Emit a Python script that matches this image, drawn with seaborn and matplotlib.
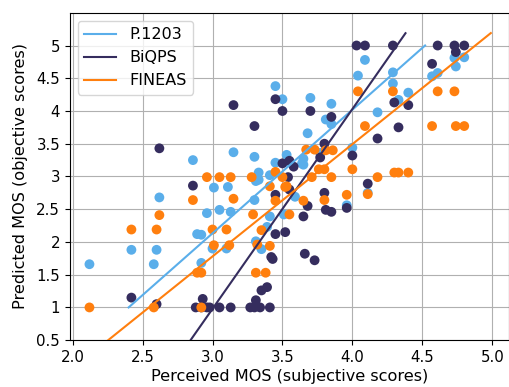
import numpy as np
import pandas as pd
import matplotlib
matplotlib.use("Agg")
import matplotlib.pyplot as plt
import seaborn as sns

# perceived (subjective) vs predicted (objective) MOS
p1203_x = [2.12, 2.42, 2.58, 2.60, 2.62, 2.86, 2.89, 2.92, 2.92, 2.96, 3.00, 3.01,
           3.05, 3.13, 3.10, 3.11, 3.15, 3.30, 3.30, 3.31, 3.31, 3.33, 3.33, 3.35,
           3.39, 3.41, 3.41, 3.45, 3.45, 3.50, 3.51, 3.53, 3.54, 3.59, 3.64, 3.65,
           3.65, 3.68, 3.70, 3.77, 3.81, 3.85, 3.85, 3.96, 4.00, 4.04, 4.09, 4.11,
           4.18, 4.29, 4.29, 4.33, 4.40, 4.57, 4.61, 4.73, 4.74, 4.80]
p1203_y = [1.66, 1.88, 1.66, 1.88, 2.68, 3.25, 2.12, 2.11, 1.68, 2.44, 1.90, 2.83,
           2.49, 2.46, 1.90, 2.84, 3.37, 3.30, 2.64, 2.93, 2.01, 3.06, 2.95, 1.89,
           2.23, 2.39, 3.02, 3.21, 4.38, 4.18, 2.42, 3.33, 3.22, 2.69, 3.20, 3.27,
           3.18, 3.66, 4.20, 3.36, 3.87, 4.11, 3.80, 2.56, 3.44, 4.54, 4.78, 2.75,
           3.98, 4.59, 4.42, 4.17, 4.28, 4.53, 4.58, 4.81, 4.68, 4.82]

biqps_x = [2.42, 2.60, 2.62, 2.86, 2.88, 2.92, 2.93, 2.96, 2.98, 3.05, 3.13, 3.15,
           3.27, 3.30, 3.31, 3.34, 3.35, 3.39, 3.41, 3.30, 3.42, 3.43, 3.45, 3.45,
           3.45, 3.50, 3.50, 3.52, 3.55, 3.54, 3.55, 3.58, 3.65, 3.66, 3.68, 3.70,
           3.73, 3.77, 3.80, 3.80, 3.81, 3.85, 3.85, 3.96, 4.00, 4.03, 4.09, 4.11,
           4.18, 4.29, 4.30, 4.33, 4.40, 4.57, 4.61, 4.73, 4.74, 4.80]
biqps_y = [1.15, 1.05, 3.43, 2.86, 1.00, 1.00, 1.13, 1.00, 1.00, 1.00, 1.00, 4.09,
           1.00, 1.00, 1.11, 1.00, 1.26, 1.31, 1.00, 3.77, 1.77, 1.74, 2.72, 4.18,
           2.12, 4.00, 3.20, 2.15, 3.24, 2.99, 2.80, 3.15, 2.39, 1.82, 2.55, 4.00,
           1.72, 3.29, 3.50, 2.75, 2.49, 2.46, 3.91, 2.52, 3.32, 5.00, 5.00, 2.89,
           3.58, 5.00, 4.13, 3.75, 4.09, 4.72, 5.00, 5.00, 4.90, 5.00]

fineas_x = [2.12, 2.42, 2.58, 2.60, 2.62, 2.86, 2.89, 2.92, 2.92, 2.96, 3.00, 3.01,
            3.05, 3.10, 3.12, 3.13, 3.15, 3.28, 3.29, 3.31, 3.32, 3.35, 3.38, 3.41,
            3.41, 3.45, 3.45, 3.50, 3.52, 3.53, 3.55, 3.65, 3.67, 3.71, 3.73, 3.76,
            3.80, 3.80, 3.81, 3.85, 3.86, 3.96, 4.00, 4.04, 4.09, 4.11, 4.18, 4.29,
            4.30, 4.33, 4.40, 4.57, 4.61, 4.73, 4.74, 4.80]
fineas_y = [1.00, 2.19, 1.00, 2.19, 2.41, 2.64, 1.53, 1.53, 1.00, 2.99, 2.19, 1.95,
            2.99, 2.19, 1.95, 2.99, 2.66, 2.99, 2.42, 1.53, 1.96, 2.18, 1.53, 2.85,
            1.94, 2.63, 3.07, 2.99, 2.84, 2.85, 2.42, 2.63, 3.41, 2.99, 3.41, 3.11,
            3.11, 2.64, 3.40, 2.99, 3.40, 2.72, 3.11, 4.30, 3.77, 2.73, 2.99, 4.30,
            3.06, 3.06, 3.06, 3.77, 4.30, 4.30, 3.77, 3.77]

# linear fits: slope, intercept, x range
models = ["P.1203", "BiQPS", "FINEAS"]
fit_slope = [1.887, 3.05, 1.714]
fit_intercept = [-3.529, -8.171, -3.363]
fit_xmin = [2.40, 2.75, 2.20]
fit_xmax = [4.52, 4.38, 4.99]

colors = {"P.1203": "#5AAEEA", "BiQPS": "#352D5E", "FINEAS": "#FF7F0E"}

df = pd.concat([
    pd.DataFrame({"perceived": p1203_x, "predicted": p1203_y, "model": "P.1203"}),
    pd.DataFrame({"perceived": biqps_x, "predicted": biqps_y, "model": "BiQPS"}),
    pd.DataFrame({"perceived": fineas_x, "predicted": fineas_y, "model": "FINEAS"}),
], ignore_index=True)

fit_rows = []
for m, a, b, x0, x1 in zip(models, fit_slope, fit_intercept, fit_xmin, fit_xmax):
    for xv in (x0, x1):
        fit_rows.append({"perceived": xv, "predicted": a * xv + b, "model": m})
fit_df = pd.DataFrame(fit_rows)

fig = plt.figure(figsize=(5.1, 3.87), dpi=100)
ax = fig.add_axes([0.137, 0.121, 0.861, 0.846])

sns.scatterplot(data=df, x="perceived", y="predicted", hue="model",
                hue_order=models, palette=colors, s=50, linewidth=0,
                legend=False, ax=ax, zorder=2)
sns.lineplot(data=fit_df, x="perceived", y="predicted", hue="model",
             hue_order=models, palette=colors, linewidth=1.5, ax=ax,
             zorder=3, sort=False)

ax.set_xlim(1.98, 5.12)
ax.set_ylim(0.5, 5.5)
ax.set_xticks(np.arange(2.0, 5.01, 0.5))
yt = np.arange(0.5, 5.01, 0.5)
ax.set_yticks(yt)
ax.set_yticklabels([f"{v:g}" for v in yt])
ax.tick_params(labelsize=10.8)
ax.grid(True, color="#b0b0b0", linewidth=0.8, zorder=0)
ax.set_axisbelow(True)
ax.set_xlabel("Perceived MOS (subjective scores)", fontsize=11.6, labelpad=3)
ax.set_ylabel("Predicted MOS (objective scores)", fontsize=11.6, labelpad=6)
ax.legend(loc="upper left", fontsize=11.5, title=None)

plt.savefig("out.png", dpi=100)
plt.close()
